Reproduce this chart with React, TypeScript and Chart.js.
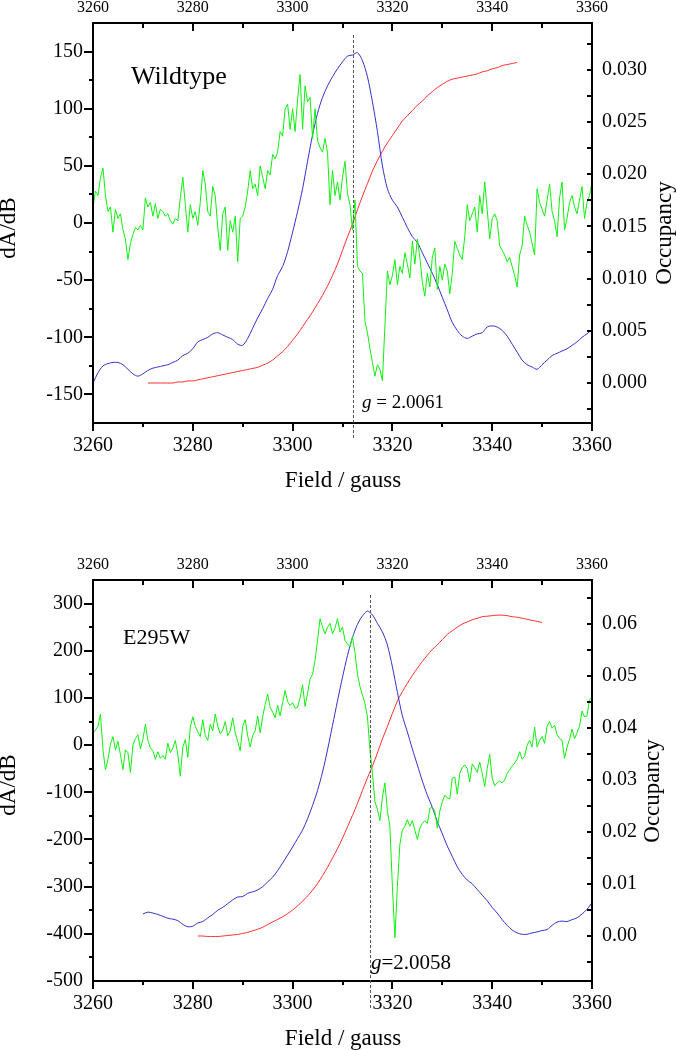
import React, { useEffect, useRef } from "react";
import { Chart, registerables } from "chart.js";

Chart.register(...registerables);

const SERIF = '"Liberation Serif", "Times New Roman", Times, serif';

// ---------- shared field axis ----------
const fieldMin = 3260;
const fieldMax = 3360;
const fieldTicks = [3260, 3280, 3300, 3320, 3340, 3360];
const fieldMinorStep = 10;

// ---------- Wildtype ----------
const wtDerivStart = 3260;
const wtDerivStep = 0.5;
const wtDerivative = [
  14, 28, 24, 40, 48, 24, 10, 14, -8, 12,
  4, 8, -6, -14, -32, -18, -10, -4, -6, -2,
  -6, 22, 14, 18, 6, 17, 4, 12, 10, 6,
  8, 2, -1, 4, 2, 22, 40, 16, -8, 16,
  4, 10, -2, 18, 46, 34, 10, 6, 32, 24,
  -4, -24, 8, 14, -24, 2, -8, 6, -34, 4,
  6, 14, 28, 46, 30, 34, 24, 50, 40, 30,
  46, 42, 60, 56, 62, 80, 76, 100, 104, 82,
  100, 80, 108, 130, 82, 120, 106, 110, 74, 100,
  72, 66, 62, 74, 62, 16, 46, 24, 36, 20,
  40, 54, 26, 16, -6, 20, -38, -42, -44, -86,
  -96, -110, -122, -134, -124, -128, -138, -90, -42, -54,
  -46, -32, -54, -38, -44, -26, -36, -48, -16, -36,
  -14, -30, -52, -64, -44, -56, -30, -22, -58, -38,
  -50, -36, -42, -62, -44, -16, -22, -28, -32, -12,
  16, 2, 8, 14, -8, 24, 8, 36, 12, -14,
  4, 8, 2, -20, -24, -28, -34, -30, -38, -46,
  -56, -28, -20, 6, -2, -8, -18, -28, 30, 18,
  12, 6, 20, 34, 10, 2, -12, 22, 36, -6,
  4, 18, 24, 14, 8, 20, 32, 4, 18, 24,
  36,
];
const wtAbsStart = 3260;
const wtAbsStep = 1;
const wtAbsorption = [
  -140, -131, -125, -123, -122, -122, -124, -128, -132, -134,
  -132, -129, -127, -126, -125, -124, -122, -120, -116, -114,
  -110, -104, -102, -100, -97, -96, -98, -100, -102, -106,
  -107, -101, -92, -83, -75, -66, -58, -46, -38, -25,
  -8, 10, 30, 54, 77, 96, 110, 120, 128, 135,
  141, 146, 147, 149, 142, 128, 106, 80, 50, 30,
  20, 14, 5, -4, -12, -17, -26, -35, -44, -54,
  -65, -76, -87, -94, -99, -101, -99, -97, -96, -91,
  -90, -91, -94, -99, -106, -113, -120, -124, -126, -128,
  -124, -120, -116, -114, -112, -110, -107, -104, -100, -97,
  -93,
];
const wtOccStart = 3271;
const wtOccStep = 1;
const wtOccupancy = [
  0, 0, 0, 0, 0, 0, 0.0001, 0.0001, 0.0002, 0.0002,
  0.0003, 0.0004, 0.0005, 0.0006, 0.0007, 0.0008, 0.0009, 0.001, 0.0011, 0.0012,
  0.0013, 0.0014, 0.0015, 0.0017, 0.0019, 0.0022, 0.0026, 0.003, 0.0035, 0.0041,
  0.0047, 0.0054, 0.0061, 0.0068, 0.0076, 0.0084, 0.0093, 0.0103, 0.0114, 0.0127,
  0.014, 0.0152, 0.0166, 0.0179, 0.0191, 0.0203, 0.0213, 0.0222, 0.023, 0.0237,
  0.0244, 0.0251, 0.0256, 0.0261, 0.0266, 0.027, 0.0275, 0.0279, 0.0283, 0.0286,
  0.0289, 0.0291, 0.0292, 0.0293, 0.0294, 0.0295, 0.0296, 0.0298, 0.0299, 0.0301,
  0.0302, 0.0304, 0.0305, 0.0306, 0.0307,
];
const wtLeftTicks = [-150, -100, -50, 0, 50, 100, 150];
const wtRightTicks = [0, 0.005, 0.01, 0.015, 0.02, 0.025, 0.03];
const wtGField = 3312.1;
const wtGText = " = 2.0061";

// ---------- E295W ----------
const muDerivStart = 3260;
const muDerivStep = 0.5;
const muDerivative = [
  26, 32, 40, 66, -10, -52, -30, 2, 18, -10,
  8, -20, -52, -10, -16, -58, 0, 14, 22, -8,
  12, 44, 10, -6, -12, -30, -14, -28, -22, -30,
  4, -16, -6, 10, -20, -66, -4, 12, -26, 38,
  60, 40, 28, 18, 54, 20, 10, 44, 30, 66,
  40, 24, 32, 50, 20, 30, 58, 26, 8, -12,
  40, 54, 20, -4, 20, 30, 62, 26, 60, 86,
  108, 80, 70, 58, 84, 62, 90, 116, 92, 84,
  90, 78, 80, 100, 128, 82, 110, 140, 150, 180,
  222, 268, 250, 236, 250, 258, 236, 248, 268, 240,
  250, 222, 214, 208, 230, 196, 150, 124, 106, 88,
  60, -10, -60, -120, -136, -160, -110, -80, -140, -172,
  -300, -408, -300, -210, -180, -172, -158, -172, -160, -180,
  -200, -176, -166, -160, -166, -134, -132, -140, -176, -140,
  -120, -106, -112, -114, -70, -68, -104, -60, -48, -42,
  -50, -78, -40, -48, -58, -36, -60, -88, -50, -20,
  -70, -86, -80, -76, -80, -74, -60, -52, -44, -38,
  -30, -14, -30, -24, 0, 10, -4, 38, -4, 10,
  18, 4, 40, 50, 36, 42, 22, 14, 10, -28,
  -4, 12, 34, 14, 26, 40, 72, 60, 62, 96,
  102,
];
const muAbsStart = 3270;
const muAbsStep = 1;
const muAbsorption = [
  -358, -354, -356, -359, -363, -367, -369, -372, -380, -385,
  -384, -377, -374, -366, -359, -350, -344, -336, -328, -322,
  -321, -314, -311, -307, -300, -290, -280, -266, -250, -233,
  -216, -198, -180, -156, -128, -96, -57, -10, 42, 94,
  144, 190, 228, 256, 274, 284, 276, 258, 240, 212,
  166, 112, 62, 28, -8, -42, -76, -106, -132, -162,
  -188, -214, -236, -258, -274, -286, -294, -306, -318, -330,
  -344, -356, -370, -382, -392, -398, -401, -401, -398, -396,
  -393, -391, -382, -375, -373, -374, -370, -366, -358, -348,
  -334,
];
const muOccStart = 3281;
const muOccStep = 1;
const muOccupancy = [
  0, 0, -0.0001, -0.0001, -0.0001, 0, 0.0001, 0.0002, 0.0003, 0.0005,
  0.0007, 0.001, 0.0013, 0.0017, 0.0022, 0.0027, 0.0032, 0.0037, 0.0043, 0.005,
  0.0058, 0.0067, 0.0077, 0.0088, 0.0101, 0.0116, 0.0132, 0.015, 0.0168, 0.0188,
  0.021, 0.0232, 0.0255, 0.028, 0.0304, 0.0327, 0.0352, 0.0379, 0.0403, 0.0428,
  0.0452, 0.047, 0.0486, 0.0501, 0.0515, 0.0528, 0.054, 0.0551, 0.056, 0.057,
  0.058, 0.0587, 0.0594, 0.06, 0.0604, 0.0608, 0.0611, 0.0614, 0.0615, 0.0616,
  0.0617, 0.0617, 0.0616, 0.0614, 0.0613, 0.0611, 0.0609, 0.0607, 0.0605, 0.0603,
];
const muLeftTicks = [-500, -400, -300, -200, -100, 0, 100, 200, 300];
const muRightTicks = [0, 0.01, 0.02, 0.03, 0.04, 0.05, 0.06];
const muGField = 3315.5;
const muGText = "=2.0058";

// ---------- styling ----------
const GREEN = "#10f010";
const BLUE = "#3232c8";
const RED = "#ff2e2e";

const toPoints = (start: number, step: number, vals: number[]) =>
  vals.map((v, i) => ({ x: start + i * step, y: v }));

type Panel = {
  top: number;
  height: number;
  topAxisH: number;
  bottomAxisH: number;
  topPad: number;
  bottomPad: number;
  leftMin: number;
  leftMax: number;
  leftTicks: number[];
  leftMinor: number;
  rightMin: number;
  rightMax: number;
  rightTicks: number[];
  rightMinor: number;
  rightDecimals: number;
  deriv: { x: number; y: number }[];
  abs: { x: number; y: number }[];
  occ: { x: number; y: number }[];
  name: string;
  nameFont: number;
  nameX: number;
  nameY: number;
  gField: number;
  gText: string;
  gFont: number;
  gX: number;
  gY: number;
  dashTop: number;
  dashBottom: number;
  leftTitleX: number;
  leftTitleY: number;
  rightTitleX: number;
  rightTitleY: number;
  xTitleY: number;
};

const panels: Panel[] = [
  {
    top: 0,
    height: 500,
    topAxisH: 23,
    bottomAxisH: 77,
    topPad: 6,
    bottomPad: 11,
    leftMin: -175,
    leftMax: 175,
    leftTicks: wtLeftTicks,
    leftMinor: 25,
    rightMin: -0.00383,
    rightMax: 0.03448,
    rightTicks: wtRightTicks,
    rightMinor: 0.0025,
    rightDecimals: 3,
    deriv: toPoints(wtDerivStart, wtDerivStep, wtDerivative),
    abs: toPoints(wtAbsStart, wtAbsStep, wtAbsorption),
    occ: toPoints(wtOccStart, wtOccStep, wtOccupancy),
    name: "Wildtype",
    nameFont: 26,
    nameX: 131,
    nameY: 84,
    gField: wtGField,
    gText: wtGText,
    gFont: 19,
    gX: 362,
    gY: 408,
    dashTop: 35,
    dashBottom: 440,
    leftTitleX: 9,
    leftTitleY: 228,
    rightTitleX: 665,
    rightTitleY: 233,
    xTitleY: 487,
  },
  {
    top: 500,
    height: 550,
    topAxisH: 80,
    bottomAxisH: 69,
    topPad: 6,
    bottomPad: 11,
    leftMin: -500,
    leftMax: 350,
    leftTicks: muLeftTicks,
    leftMinor: 50,
    rightMin: -0.00865,
    rightMax: 0.06846,
    rightTicks: muRightTicks,
    rightMinor: 0.005,
    rightDecimals: 2,
    deriv: toPoints(muDerivStart, muDerivStep, muDerivative),
    abs: toPoints(muAbsStart, muAbsStep, muAbsorption),
    occ: toPoints(muOccStart, muOccStep, muOccupancy),
    name: "E295W",
    nameFont: 22,
    nameX: 123,
    nameY: 144,
    gField: muGField,
    gText: muGText,
    gFont: 21,
    gX: 371,
    gY: 469,
    dashTop: 95,
    dashBottom: 510,
    leftTitleX: 9,
    leftTitleY: 285,
    rightTitleX: 653,
    rightTitleY: 291,
    xTitleY: 545,
  },
];

function makeDecor(p: Panel) {
  return {
    id: "decor",
    afterDraw(chart: any) {
      const ctx = chart.ctx as CanvasRenderingContext2D;
      const a = chart.chartArea;
      const xs = chart.scales.x;
      const yl = chart.scales.y;
      const yr = chart.scales.y2;
      const L = Math.round(a.left);
      const R = Math.round(a.right);
      const T = Math.round(a.top);
      const B = Math.round(a.bottom);
      ctx.save();
      ctx.strokeStyle = "#000";
      ctx.lineWidth = 2;
      ctx.setLineDash([]);
      ctx.strokeRect(L, T, R - L, B - T);
      const seg = (x1: number, y1: number, x2: number, y2: number) => {
        ctx.beginPath();
        ctx.moveTo(x1, y1);
        ctx.lineTo(x2, y2);
        ctx.stroke();
      };
      // field ticks: bottom outward, top inward
      const kx0 = Math.ceil(fieldMin / fieldMinorStep);
      const kx1 = Math.floor(fieldMax / fieldMinorStep);
      for (let k = kx0; k <= kx1; k++) {
        const v = k * fieldMinorStep;
        const major = fieldTicks.includes(v);
        const px = Math.round(xs.getPixelForValue(v));
        seg(px, B, px, B + (major ? 8 : 4));
        seg(px, T, px, T + (major ? 8 : 5));
      }
      // left ticks outward
      const ky0 = Math.ceil(p.leftMin / p.leftMinor - 1e-9);
      const ky1 = Math.floor(p.leftMax / p.leftMinor + 1e-9);
      for (let k = ky0; k <= ky1; k++) {
        const v = k * p.leftMinor;
        if (v <= p.leftMin || v >= p.leftMax) continue;
        const major = p.leftTicks.some((t) => Math.abs(t - v) < 1e-6);
        const py = Math.round(yl.getPixelForValue(v));
        seg(L, py, L - (major ? 9 : 4), py);
      }
      // right ticks inward
      const kr0 = Math.ceil(p.rightMin / p.rightMinor - 1e-9);
      const kr1 = Math.floor(p.rightMax / p.rightMinor + 1e-9);
      for (let k = kr0; k <= kr1; k++) {
        const v = k * p.rightMinor;
        const py = Math.round(yr.getPixelForValue(v));
        if (py <= T + 1 || py >= B - 1) continue;
        seg(R, py, R - 5, py);
      }
      // dashed g line
      const gx = Math.round(xs.getPixelForValue(p.gField)) + 0.5;
      ctx.strokeStyle = "#555";
      ctx.lineWidth = 1;
      ctx.setLineDash([3, 2]);
      seg(gx, p.dashTop, gx, p.dashBottom);
      ctx.setLineDash([]);
      // texts
      ctx.fillStyle = "#000";
      ctx.textAlign = "left";
      ctx.textBaseline = "alphabetic";
      ctx.font = `${p.nameFont}px ${SERIF}`;
      ctx.fillText(p.name, p.nameX, p.nameY);
      ctx.font = `italic ${p.gFont}px ${SERIF}`;
      ctx.fillText("g", p.gX, p.gY);
      const gw = ctx.measureText("g").width;
      ctx.font = `${p.gFont}px ${SERIF}`;
      ctx.fillText(p.gText, p.gX + gw, p.gY);
      ctx.font = `23px ${SERIF}`;
      ctx.textAlign = "center";
      ctx.fillText("Field / gauss", 343, p.xTitleY);
      ctx.textBaseline = "middle";
      ctx.save();
      ctx.translate(p.leftTitleX, p.leftTitleY);
      ctx.rotate(-Math.PI / 2);
      ctx.fillText("dA/dB", 0, 0);
      ctx.restore();
      ctx.save();
      ctx.translate(p.rightTitleX, p.rightTitleY);
      ctx.rotate(-Math.PI / 2);
      ctx.fillText("Occupancy", 0, 0);
      ctx.restore();
      ctx.restore();
    },
  };
}

function PanelChart({ p }: { p: Panel }) {
  const ref = useRef<HTMLCanvasElement>(null);
  useEffect(() => {
    if (!ref.current) return;
    const tickFont = { family: SERIF, size: 20 };
    const fieldScale = (position: string, h: number, pad: number, size: number) => ({
      type: "linear",
      position,
      min: fieldMin,
      max: fieldMax,
      afterBuildTicks: (s: any) => {
        s.ticks = fieldTicks.map((v) => ({ value: v }));
      },
      afterFit: (s: any) => {
        s.height = h;
      },
      ticks: {
        padding: pad,
        color: "#000",
        font: { family: SERIF, size },
        autoSkip: false,
        maxRotation: 0,
        minRotation: 0,
        callback: (v: any) => String(v),
      },
      grid: { display: false, drawTicks: false },
      border: { display: false },
    });
    const chart = new Chart(ref.current, {
      type: "line",
      data: {
        datasets: [
          {
            data: p.deriv,
            borderColor: GREEN,
            borderWidth: 1,
            pointRadius: 0,
            tension: 0,
            xAxisID: "x",
            yAxisID: "y",
          },
          {
            data: p.abs,
            borderColor: BLUE,
            borderWidth: 1,
            pointRadius: 0,
            tension: 0.3,
            xAxisID: "x",
            yAxisID: "y",
          },
          {
            data: p.occ,
            borderColor: RED,
            borderWidth: 1,
            pointRadius: 0,
            tension: 0.3,
            xAxisID: "x",
            yAxisID: "y2",
          },
        ],
      } as any,
      options: {
        animation: false,
        responsive: false,
        maintainAspectRatio: false,
        devicePixelRatio: 1,
        layout: { padding: 0 },
        plugins: { legend: { display: false }, tooltip: { enabled: false } },
        events: [],
        scales: {
          x: fieldScale("bottom", p.bottomAxisH, p.bottomPad, 20),
          x2: fieldScale("top", p.topAxisH, p.topPad, 16),
          y: {
            type: "linear",
            position: "left",
            min: p.leftMin,
            max: p.leftMax,
            afterBuildTicks: (s: any) => {
              s.ticks = p.leftTicks.map((v) => ({ value: v }));
            },
            afterFit: (s: any) => {
              s.width = 93;
            },
            ticks: {
              padding: 10,
              color: "#000",
              font: tickFont,
              autoSkip: false,
              callback: (v: any) => String(v),
            },
            grid: { display: false, drawTicks: false },
            border: { display: false },
          },
          y2: {
            type: "linear",
            position: "right",
            min: p.rightMin,
            max: p.rightMax,
            afterBuildTicks: (s: any) => {
              s.ticks = p.rightTicks.map((v) => ({ value: v }));
            },
            afterFit: (s: any) => {
              s.width = 84;
            },
            ticks: {
              padding: 10,
              color: "#000",
              font: tickFont,
              autoSkip: false,
              callback: (v: any) => Number(v).toFixed(p.rightDecimals),
            },
            grid: { display: false, drawTicks: false },
            border: { display: false },
          },
        },
      } as any,
      plugins: [makeDecor(p)],
    });
    return () => chart.destroy();
  }, [p]);
  return (
    <canvas
      ref={ref}
      width={676}
      height={p.height}
      style={{ position: "absolute", left: 0, top: p.top, width: 676, height: p.height, display: "block" }}
    />
  );
}

export default function App() {
  return (
    <div style={{ position: "absolute", left: 0, top: 0, width: 676, height: 1050, background: "#fff" }}>
      {panels.map((p, i) => (
        <PanelChart key={i} p={p} />
      ))}
    </div>
  );
}
